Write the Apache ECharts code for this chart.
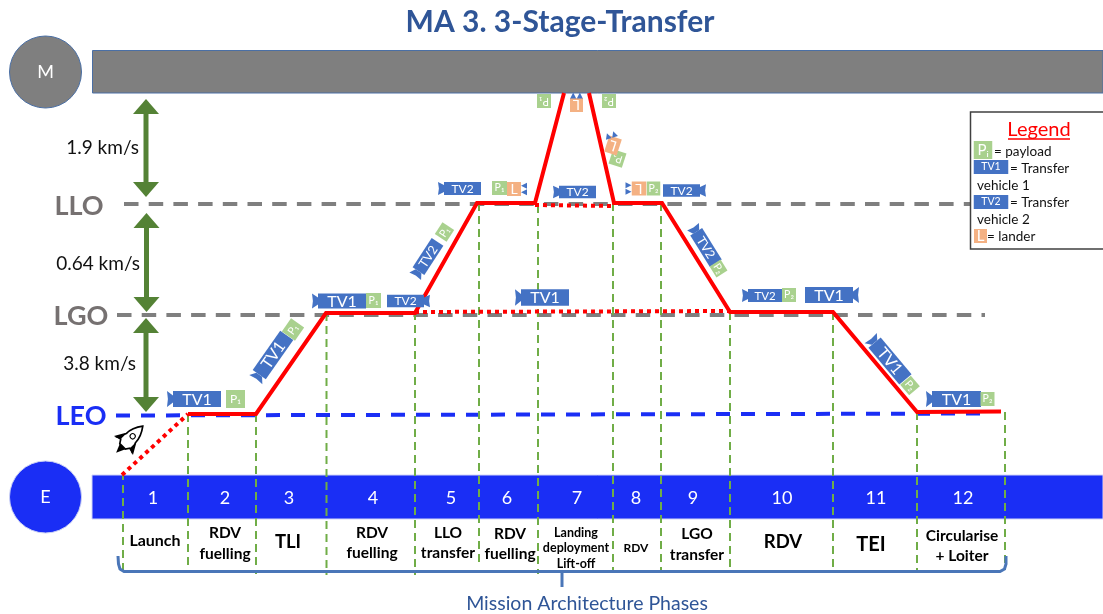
<!DOCTYPE html>
<html><head><meta charset="utf-8">
<style>html,body{margin:0;padding:0;background:#fff}#c{width:1103px;height:614px}</style>
<script src="https://cdn.jsdelivr.net/npm/echarts@6/dist/echarts.min.js"></script>
</head><body><div id="c"></div>
<script>
// ---- values (x / y in the diagram's own 1103 x 614 scale, y downward)
const phaseNumbers = ['1','2','3','4','5','6','7','8','9','10','11','12'];
const phaseNumberX = [153,225,289,373,451,507,577,636,693,782,876,963];
const phaseBoundaryX   = [123,188,256,326.5,415,479,538,613,661,730,833,917,1005];
const phaseBoundaryTop = [472,414,414,313,312,203,205,203,203,312,312,412,412];
const phaseBoundaryEnd = [570,572,574,575,575,567,574,570,570,568,570,570,570];
const phaseNames = [
  ['Launch',155,[541],16],['RDV\nfuelling',225,[533,554],15.5],['TLI',288,[542],18.5],
  ['RDV\nfuelling',372,[533,553],15.5],['LLO\ntransfer',448,[533,553],15.5],['RDV\nfuelling',510,[534,554],15.5],
  ['Landing\ndeployment\nLift-off',576,[533,548,564],12.5],['RDV',636,[548],12],['LGO\ntransfer',697,[534,555],15.5],
  ['RDV',783,[542],18.5],['TEI',871,[545],20],['Circularise\n+ Loiter',962,[536,556],15.5]
];
const orbitLLO = [[124,204],[972,204]];
const orbitLGO = [[117,315],[985,315]];
const orbitLEO = [[116,415.5],[985,413.5]];
const burnA = [[188,414],[256,414],[326,313],[415,313],[477,203],[535,203],[564,93]];
const burnB = [[589,93],[614,203],[662,203],[730,312],[833,312],[917,412],[1001,411.5]];
const coastLaunch = [[122,475],[188,414]];
const coastLGO = [[415,312],[730,311]];
const coastLLO = [[535,205],[614,206]];
const bracket = [[118,556],[118.5,564],[120,569],[124,571.5],[1000,571.5],[1004.5,569],[1006,564],[1006,556]];
const bracketTick = [[562,571],[562,587]];
const deltaArrows = [[146,99,197],[146.5,213,312],[146,318,412]];
const deltaLabels = [['1.9 km/s',139,148],['0.64 km/s',140,264],['3.8 km/s',136,364]];
const orbitLabels = [['LLO',79,206,'#767171'],['LGO',81,316,'#767171'],['LEO',81,416,'#1a2ef5']];
// vehicles: name, centre x, centre y, angle (deg, ccw), length, height, nozzle side, text size
const vehicles = [
  ['TV1',197,399,0,48,16,-1,16],['TV1',273,355,55,48,16,-1,16],['TV1',342,301,0,48,15,-1,16],
  ['TV2',405.5,301,0,37,12.5,1,12],['TV2',428,256.5,57,35,14,-1,12.5],['TV2',462.5,188.5,0,37,13,-1,12],
  ['TV2',577.5,192,0,37,12.5,-1,12],['TV1',545,297.5,0,48,16.5,-1,16],['TV2',681.5,190.5,0,37,12.5,1,12],
  ['TV2',706,247.5,-58,37,14,-1,12.5],['TV2',765,295.5,0,34,13,-1,11.5],['TV1',829,295,0,48,16,1,16],
  ['TV1',890,361,-50,48,16,-1,16],['TV1',956.5,399,0,49,16,-1,16]
];
// payloads / landers: label, centre x, centre y, angle, width, height
const payloads = [
  ['P₁',235.5,399,0,19,18],['P₁',293,329.5,55,16,16],['P₁',373.5,300.5,0,15,15],['P₁',444.5,232,57,14,14],
  ['P₁',499.5,188,0,15,14],['P₁',544,101,180,14,14],['P₂',609,101,180,14,14],['P₂',617.5,158.5,162,14,15],
  ['P₂',653.5,188.5,0,13.5,14],['P₂',718.5,268.5,-58,13,13],['P₂',789,295,0,14,14],['P₂',910,385.5,-50,14,14],['P₂',987.5,399,0,14,14]
];
const landers = [[514,189,0,14,14],[576.5,105,180,13,14],[613,145.5,162,13,17],[639,188.5,180,14.5,14]];
const landerNozzles = [[524,189,0],[576.5,95.5,90],[611,135,72],[628.5,188.5,180]];
const legendRows = [
  ['= payload',994,152],['= Transfer',1010,169],['vehicle 1',977,186],
  ['= Transfer',1010,203],['vehicle 2',977,220],['= lander',987,237]
];
const legendKeys = [['Pᵢ',983,150,18.5,18,'#A9D18E'],['TV1',991,167,34.5,14,'#4472C4'],['TV2',991,202,34.5,14,'#4472C4'],['L',980.5,236,13,14,'#F4B183']];

const FONT = 'Lato, "Open Sans", sans-serif';
const RED='#ff0000', BLUE='#1a2ef5', GREY='#7f7f7f', GREEN='#548235', TVB='#4472C4', PAY='#A9D18E', LAN='#F4B183', DASH='#70AD47';
const rad = d => d*Math.PI/180;
const txt = (x,y,t,size,fill,extra={}) => ({type:'text',x,y,style:Object.assign({text:t,fontSize:size,fontFamily:FONT,fill,align:'center',verticalAlign:'middle'},extra)});

function line(data,color,width,type,z,name){
  return {type:'line',name,data,showSymbol:false,symbol:'none',silent:true,z,clip:false,animation:false,
    lineStyle:{color,width,type,cap:'butt',join:'miter'}};
}
function custom(list,build,z){
  return {type:'custom',silent:true,z,clip:false,animation:false,
    data:list.map((d,i)=>[i]),encode:{x:0,y:0},
    renderItem:(p,api)=>build(list[p.dataIndex],api)};
}
const at = (api,x,y)=>api.coord([x,y]);
function rectAt(api,x0,y0,x1,y1,style){
  const a=at(api,x0,y0), b=at(api,x1,y1);
  return {type:'rect',shape:{x:a[0],y:a[1],width:b[0]-a[0],height:b[1]-a[1]},style};
}
const series = [
  // planets / bands
  custom([[92.5,50.5,1103,93,GREY,'#4a6fa5'],[92,475,1103,519,BLUE,'#d0d4f8']],(d,api)=>rectAt(api,d[0],d[1],d[2],d[3],{fill:d[4],stroke:d[5],lineWidth:1}),1),
  custom([[45.5,72,GREY,'#4a6fa5','M'],[45.5,497,BLUE,'#c8cff5','E']],(d,api)=>{
    const c=at(api,d[0],d[1]);
    return {type:'group',children:[
      {type:'circle',shape:{cx:c[0],cy:c[1],r:36},style:{fill:d[2],stroke:d[3],lineWidth:1}},
      txt(c[0],c[1],d[4],18,'#fff')]};
  },2),
  // orbits
  line(orbitLLO,GREY,4,[14.5,10.2],3,'LLO'),
  line(orbitLGO,GREY,4,[14.5,10.2],3,'LGO'),
  line(orbitLEO,BLUE,4,[14,11],3,'LEO'),
  // phase boundaries
  custom(phaseBoundaryX.map((x,i)=>[x,phaseBoundaryTop[i],phaseBoundaryEnd[i]]),(d,api)=>{
    const a=at(api,d[0],d[1]),b=at(api,d[0],d[2]);
    return {type:'line',shape:{x1:a[0],y1:a[1],x2:b[0],y2:b[1]},style:{stroke:DASH,lineWidth:2,lineDash:[8,5]}};
  },4),
  // trajectories
  line(coastLaunch,RED,4,[4,4],5,'launch'),
  line(coastLGO,RED,4,[4,4],5,'coast LGO'),
  line(coastLLO,RED,4,[4,4],5,'coast LLO'),
  line(burnA,RED,4,'solid',6,'outbound'),
  line(burnB,RED,4,'solid',6,'inbound'),
  // bracket
  line(bracket,'#4a76b8',3,'solid',4,'bracket'),
  line(bracketTick,'#4a76b8',3,'solid',4,'bracket tick'),
  // delta-v arrows
  custom(deltaArrows,(d,api)=>{
    const a=at(api,d[0],d[1]),b=at(api,d[0],d[2]),x=a[0];
    return {type:'group',children:[
      {type:'rect',shape:{x:x-2.5,y:a[1]+10,width:5,height:b[1]-a[1]-20},style:{fill:GREEN}},
      {type:'polygon',shape:{points:[[x,a[1]],[x-13,a[1]+15],[x+13,a[1]+15]]},style:{fill:GREEN}},
      {type:'polygon',shape:{points:[[x,b[1]],[x-13,b[1]-15],[x+13,b[1]-15]]},style:{fill:GREEN}}]};
  },7),
  // vehicles
  custom(vehicles,(d,api)=>{
    const c=at(api,d[1],d[2]),L=d[4],h=d[5],s=d[6],e=s*L/2,f=s*6;
    return {type:'group',x:c[0],y:c[1],rotation:rad(d[3]),children:[
      {type:'polygon',shape:{points:[[e,-3.5],[e+f,-h/2],[e+f*0.85,0],[e+f,h/2],[e,3.5]]},style:{fill:TVB}},
      {type:'rect',shape:{x:-L/2,y:-h/2,width:L,height:h},style:{fill:TVB}},
      txt(0,0.5,d[0],d[7],'#fff')]};
  },8),
  custom(payloads,(d,api)=>{
    const c=at(api,d[1],d[2]);
    return {type:'group',x:c[0],y:c[1],rotation:rad(d[3]),children:[
      {type:'rect',shape:{x:-d[4]/2,y:-d[5]/2,width:d[4],height:d[5]},style:{fill:PAY}},
      txt(0,0,d[0],d[5]>16?12:10.5,'#fff')]};
  },8),
  custom(landers,(d,api)=>{
    const c=at(api,d[0],d[1]);
    return {type:'group',x:c[0],y:c[1],rotation:rad(d[2]),children:[
      {type:'rect',shape:{x:-d[3]/2,y:-d[4]/2,width:d[3],height:d[4]},style:{fill:LAN}},
      txt(0,0,'L',14,'#fff')]};
  },9),
  custom(landerNozzles,(d,api)=>{
    const c=at(api,d[0],d[1]);
    const tri=y=>({type:'polygon',shape:{points:[[-3,y],[3,y-3],[3,y+3]]},style:{fill:TVB}});
    return {type:'group',x:c[0],y:c[1],rotation:rad(-d[2]),children:[tri(-3.3),tri(3.3)]};
  },9),
  // rocket
  custom([[129,440,-45]],(d,api)=>{
    const c=at(api,d[0],d[1]);
    return {type:'group',x:c[0],y:c[1],rotation:rad(d[2]),scaleX:1.3,scaleY:1.3,children:[
      {type:'path',shape:{pathData:'M0 0C-3 4 -5 8 -5 13L-9 20L-5 19L-3 22L3 22L5 19L9 20L5 13C5 8 3 4 0 0Z',layout:'cover',x:-9,y:-15,width:18,height:22},style:{fill:'#fff',stroke:'#000',lineWidth:1.3}},
      {type:'polygon',shape:{points:[[-3,7],[0,14],[3,7]]},style:{fill:'#000'}},
      {type:'polygon',shape:{points:[[-9,6],[-5,-3],[-5,4]]},style:{fill:'#000'}},
      {type:'polygon',shape:{points:[[9,6],[5,-3],[5,4]]},style:{fill:'#000'}},
      {type:'circle',shape:{cx:0,cy:-4,r:2},style:{fill:'#fff',stroke:'#000',lineWidth:0.8}}]};
  },9),
  // texts
  custom(phaseNumbers.map((t,i)=>[t,phaseNumberX[i]]),(d,api)=>{const c=at(api,d[1],498);return txt(c[0],c[1],d[0],18,'#fff');},10),
  custom(phaseNames,(d,api)=>{
    const parts=d[0].split('\n');
    return {type:'group',children:parts.map((t,i)=>{const c=at(api,d[1],d[2][i]);return txt(c[0],c[1],t,d[3],'#000',{fontWeight:'bold'});})};
  },10),
  custom(deltaLabels,(d,api)=>{const c=at(api,d[1],d[2]);return txt(c[0],c[1],d[0],19,'#111',{align:'right'});},10),
  custom(orbitLabels,(d,api)=>{const c=at(api,d[1],d[2]);return txt(c[0],c[1],d[0],27,d[3],{fontWeight:'bold'});},10),
  custom([['MA 3. 3-Stage-Transfer',560,22,30,'#2F5597','bold'],['Mission Architecture Phases',587,603.5,19.5,'#2F5597','normal']],(d,api)=>{
    const c=at(api,d[1],d[2]);return txt(c[0],c[1],d[0],d[3],d[4],{fontWeight:d[5]});
  },10),
  // legend
  custom([[970.5,112,1120,249]],(d,api)=>rectAt(api,d[0],d[1],d[2],d[3],{fill:'#fff',stroke:'#404040',lineWidth:1.5}),20),
  custom([['Legend',1039,130]],(d,api)=>{
    const c=at(api,d[1],d[2]);
    return {type:'group',children:[txt(c[0],c[1],d[0],20,RED),
      {type:'line',shape:{x1:c[0]-31,y1:c[1]+9,x2:c[0]+31,y2:c[1]+9},style:{stroke:RED,lineWidth:1.5}}]};
  },21),
  custom(legendKeys,(d,api)=>{
    const c=at(api,d[1],d[2]);
    return {type:'group',children:[
      {type:'rect',shape:{x:c[0]-d[3]/2,y:c[1]-d[4]/2,width:d[3],height:d[4]},style:{fill:d[5]}},
      txt(c[0],c[1],d[0],d[0]==='L'?15:d[0]==='Pᵢ'?15:10.5,'#fff')]};
  },21),
  custom(legendRows,(d,api)=>{const c=at(api,d[1],d[2]);return txt(c[0],c[1],d[0],13.5,'#111',{align:'left'});},21)
];
const chart = echarts.init(document.getElementById('c'),null,{renderer:'canvas'});
chart.setOption({
  animation:false,backgroundColor:'#fff',
  grid:{left:0,right:0,top:0,bottom:0},
  xAxis:{type:'value',min:0,max:1103,show:false},
  yAxis:{type:'value',min:0,max:614,inverse:true,show:false},
  series
});
</script></body></html>
